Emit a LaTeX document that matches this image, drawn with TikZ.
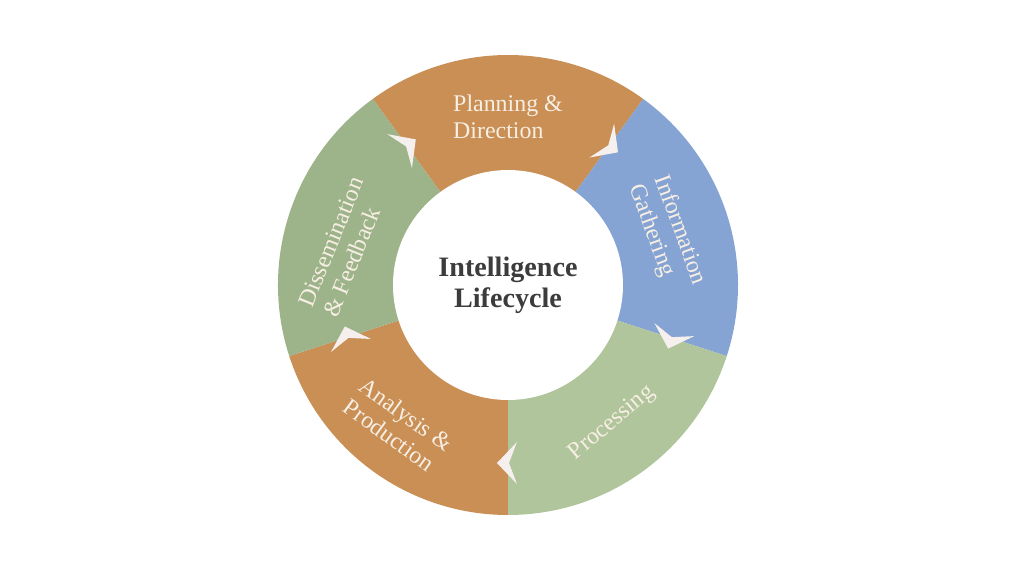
\documentclass[tikz,border=0pt]{standalone}
\usepackage{fontspec}
\setmainfont{Liberation Serif}

\definecolor{cycleorange}{RGB}{201,143,85}
\definecolor{cycleblue}{RGB}{133,163,211}
\definecolor{cyclelightgreen}{RGB}{176,197,155}
\definecolor{cyclegreen}{RGB}{157,179,137}
\definecolor{segcream}{RGB}{247,238,228}
\definecolor{chevronwhite}{RGB}{245,240,237}
\definecolor{titlegrey}{RGB}{60,60,60}

\begin{document}
\begin{tikzpicture}[
    segtext/.style={text=segcream, align=left, inner sep=0pt, font=\fontsize{6.8}{7.6}\selectfont},
    chevron/.style={fill=chevronwhite, draw=none}
]
    \useasboundingbox (-5.08, -2.89) rectangle (5.16, 2.85);

    % Outer Ring
    \fill [cycleorange] (0, 0) -- (54:2.3) arc [start angle=54, end angle=126, radius=2.3] -- cycle;
    \fill [cycleblue] (0, 0) -- (-18:2.3) arc [start angle=-18, end angle=54, radius=2.3] -- cycle;
    \fill [cyclelightgreen] (0, 0) -- (-90:2.3) arc [start angle=-90, end angle=-18, radius=2.3] -- cycle;
    \fill [cycleorange] (0, 0) -- (198:2.3) arc [start angle=198, end angle=270, radius=2.3] -- cycle;
    \fill [cyclegreen] (0, 0) -- (126:2.3) arc [start angle=126, end angle=198, radius=2.3] -- cycle;

    % Inner Circle
    \node [circle, fill=white, minimum size=2.3cm, inner sep=0pt, align=center, text=titlegrey,
        font=\bfseries\fontsize{8}{8.8}\selectfont] (lifecycle) at (0, 0) {Intelligence\\Lifecycle};

    % Chevrons (clockwise)
    \fill [chevron, shift={(54:1.72)}, rotate=-36] (0.11, 0) -- (-0.09, 0.21) -- (-0.01, 0) -- (-0.09, -0.21) -- cycle;
    \fill [chevron, shift={(-18:1.72)}, rotate=-108] (0.11, 0) -- (-0.09, 0.21) -- (-0.01, 0) -- (-0.09, -0.21) -- cycle;
    \fill [chevron, shift={(-90:1.78)}, rotate=-180] (0.11, 0) -- (-0.09, 0.21) -- (-0.01, 0) -- (-0.09, -0.21) -- cycle;
    \fill [chevron, shift={(198:1.68)}, rotate=108] (0.11, 0) -- (-0.09, 0.21) -- (-0.01, 0) -- (-0.09, -0.21) -- cycle;
    \fill [chevron, shift={(126:1.72)}, rotate=36] (0.11, 0) -- (-0.09, 0.21) -- (-0.01, 0) -- (-0.09, -0.21) -- cycle;

    % Segment labels
    \node [segtext] (planning) at (90:1.68) {Planning \&\\Direction};
    \node [segtext, rotate=-70] (gathering) at (17.5:1.67) {Information\\Gathering};
    \node [segtext, rotate=40] (processing) at (-53:1.73) {Processing};
    \node [segtext, rotate=-36] (analysis) at (232:1.78) {Analysis \&\\Production};
    \node [segtext, rotate=68] (dissemination) at (167:1.69) {Dissemination\\\& Feedback};
\end{tikzpicture}
\end{document}
